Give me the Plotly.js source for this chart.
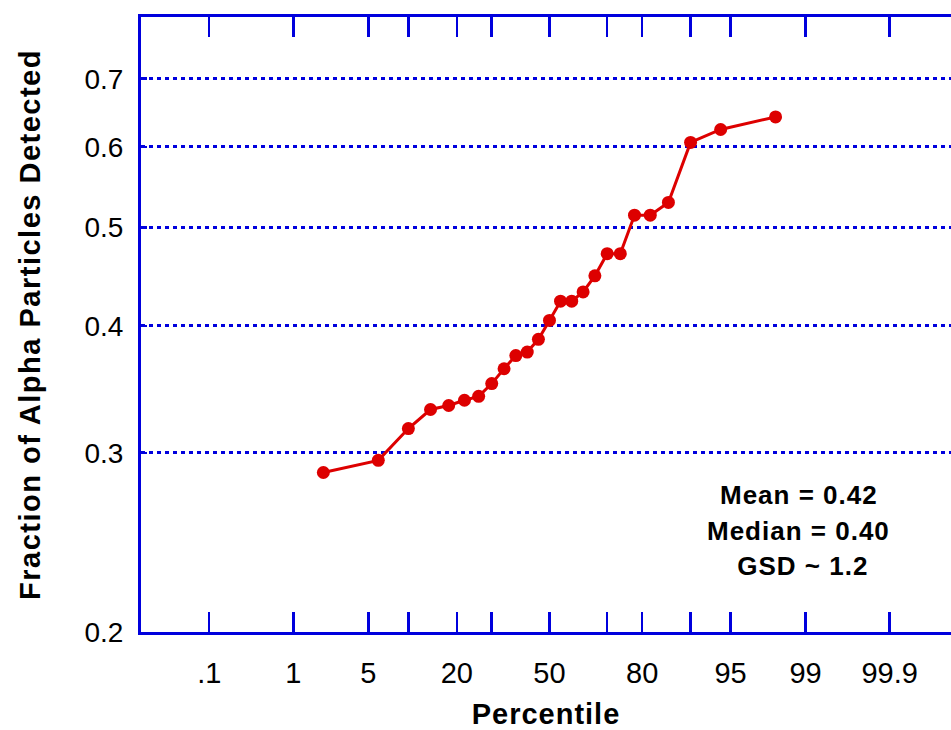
<!DOCTYPE html>
<html>
<head>
<meta charset="utf-8">
<script src="https://cdn.plot.ly/plotly-3.0.1.min.js"></script>
<style>
  html, body { margin: 0; padding: 0; background: #fff; }
  #chart { width: 951px; height: 730px; }
  .xtitle { letter-spacing: 1px; }
  .ytitle { letter-spacing: 1.5px; }
  .annotation-text { letter-spacing: 1px; }
</style>
</head>
<body>
<div id="chart"></div>
<script>
// Percentile plotting positions of the 25 measurements
const percentiles = [2, 6, 10, 14, 18, 22, 26, 30, 34, 38, 42, 46, 50,
                     54, 58, 62, 66, 70, 74, 78, 82, 86, 90, 94, 98];
// Fraction of alpha particles detected (sorted)
const fractions = [0.287, 0.295, 0.317, 0.331, 0.334, 0.338, 0.341, 0.351, 0.363,
                   0.374, 0.377, 0.388, 0.405, 0.423, 0.423, 0.432, 0.448, 0.471,
                   0.471, 0.514, 0.514, 0.529, 0.606, 0.624, 0.642];

// Probability-axis ticks
const xTickPercent = [0.1, 1, 5, 10, 20, 30, 50, 70, 80, 90, 95, 99, 99.9];
const xTickLabels  = [".1", "1", "5", "", "20", "", "50", "", "80", "", "95", "99", "99.9"];
const yTickVals    = [0.2, 0.3, 0.4, 0.5, 0.6, 0.7];
const yTickLabels  = ["0.2", "0.3", "0.4", "0.5", "0.6", "0.7"];

const statLines = ["Mean = 0.42", "Median = 0.40", " GSD ~ 1.2"];

// inverse standard normal CDF (Acklam) -> normal-probability scale
function probit(p) {
  const a = [-3.969683028665376e+01, 2.209460984245205e+02, -2.759285104469687e+02,
             1.383577518672690e+02, -3.066479806614716e+01, 2.506628277459239e+00];
  const b = [-5.447609879822406e+01, 1.615858368580409e+02, -1.556989798598866e+02,
             6.680131188771972e+01, -1.328068155288572e+01];
  const c = [-7.784894002430293e-03, -3.223964580411365e-01, -2.400758277161838e+00,
             -2.549732539343734e+00, 4.374664141464968e+00, 2.938163982698783e+00];
  const d = [7.784695709041462e-03, 3.224671290700398e-01, 2.445134137142996e+00,
             3.754408661907416e+00];
  const pl = 0.02425, ph = 1 - pl;
  let q, r;
  if (p < pl) {
    q = Math.sqrt(-2 * Math.log(p));
    return (((((c[0]*q+c[1])*q+c[2])*q+c[3])*q+c[4])*q+c[5]) /
           ((((d[0]*q+d[1])*q+d[2])*q+d[3])*q+1);
  } else if (p <= ph) {
    q = p - 0.5; r = q*q;
    return (((((a[0]*r+a[1])*r+a[2])*r+a[3])*r+a[4])*r+a[5])*q /
           (((((b[0]*r+b[1])*r+b[2])*r+b[3])*r+b[4])*r+1);
  } else {
    q = Math.sqrt(-2 * Math.log(1 - p));
    return -(((((c[0]*q+c[1])*q+c[2])*q+c[3])*q+c[4])*q+c[5]) /
            ((((d[0]*q+d[1])*q+d[2])*q+d[3])*q+1);
  }
}
const toZ = pc => probit(pc / 100);

const BLUE = "#0000DD";
const RED = "#DD0000";

const trace = {
  x: percentiles.map(toZ),
  y: fractions,
  type: "scatter",
  mode: "lines+markers",
  line: { color: RED, width: 3 },
  marker: { color: RED, size: 13 },
  customdata: percentiles,
  hovertemplate: "%{customdata}%: %{y}<extra></extra>",
  showlegend: false
};

const statY = [0.222, 0.164, 0.107];
const annotations = statLines.map((t, i) => ({
  xref: "paper", yref: "paper",
  x: 0.812, y: statY[i],
  xanchor: "center", yanchor: "middle",
  text: t, showarrow: false,
  font: { family: "Liberation Sans, Arial, sans-serif", size: 26, color: "#000", weight: "bold" }
}));

const layout = {
  width: 951, height: 730,
  margin: { l: 141, r: 0, t: 17, b: 98, pad: 0 },
  paper_bgcolor: "#fff", plot_bgcolor: "#fff",
  showlegend: false,
  xaxis: {
    range: [-3.71, 3.647],
    tickmode: "array",
    tickvals: xTickPercent.map(toZ),
    ticktext: xTickLabels,
    ticks: "inside", ticklen: 20, tickwidth: 2.5, tickcolor: BLUE,
    showline: true, linecolor: BLUE, linewidth: 3, mirror: "allticks",
    showgrid: false, zeroline: false,
    ticklabelstandoff: 13,
    tickfont: { family: "Liberation Sans Narrow, Liberation Sans, Arial, sans-serif", size: 29, color: "#000" },
    title: { text: "Percentile", standoff: 20,
             font: { family: "Liberation Sans, Arial, sans-serif", size: 29, color: "#000", weight: "bold" } }
  },
  yaxis: {
    type: "log",
    range: [Math.log10(0.2), Math.log10(0.805)],
    tickmode: "array",
    tickvals: yTickVals,
    ticktext: yTickLabels,
    ticks: "inside", ticklen: 6, tickwidth: 2.5, tickcolor: BLUE,
    showline: true, linecolor: BLUE, linewidth: 3, mirror: false,
    showgrid: true, gridcolor: BLUE, gridwidth: 3, griddash: "4px,4px",
    zeroline: false,
    ticklabelstandoff: 9,
    tickfont: { family: "Liberation Sans, Arial, sans-serif", size: 28, color: "#000" },
    title: { text: "Fraction of Alpha Particles Detected", standoff: 36,
             font: { family: "Liberation Sans, Arial, sans-serif", size: 29, color: "#000", weight: "bold" } }
  },
  annotations: annotations
};

Plotly.newPlot("chart", [trace], layout, { displayModeBar: false, staticPlot: true });
</script>
</body>
</html>
